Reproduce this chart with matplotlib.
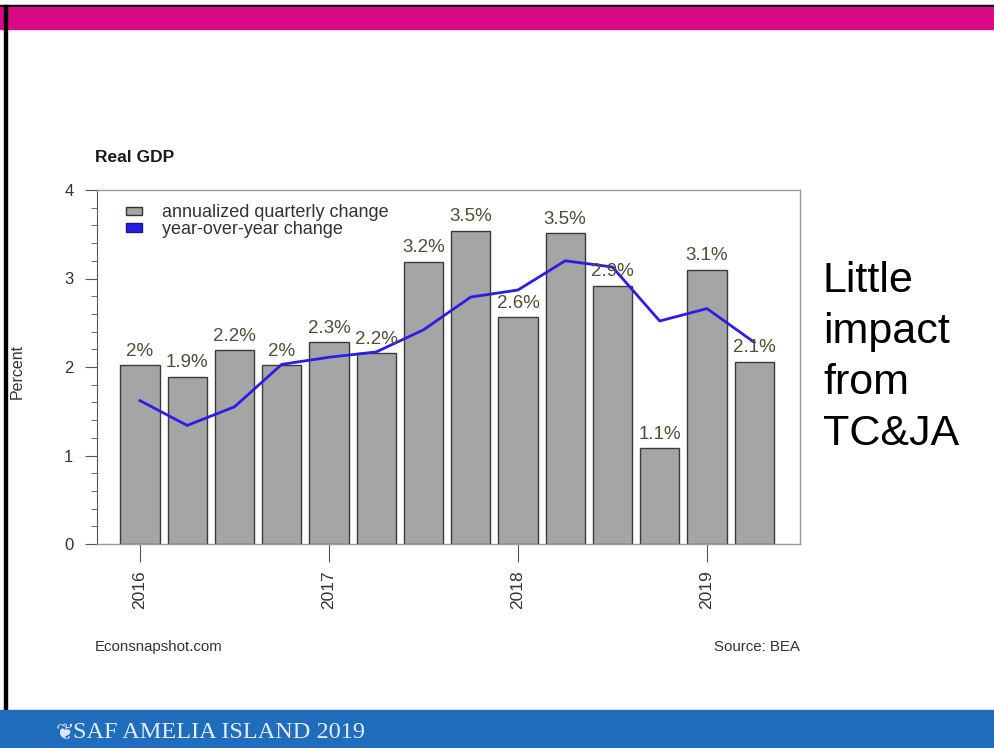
import matplotlib.pyplot as plt
import numpy as np
from matplotlib.patches import Patch, Rectangle
from matplotlib.ticker import MultipleLocator

quarters = ["2016Q1", "2016Q2", "2016Q3", "2016Q4",
            "2017Q1", "2017Q2", "2017Q3", "2017Q4",
            "2018Q1", "2018Q2", "2018Q3", "2018Q4",
            "2019Q1", "2019Q2"]
qoq = [2.02, 1.89, 2.19, 2.02, 2.28, 2.16, 3.19, 3.54, 2.56, 3.51, 2.92, 1.08, 3.10, 2.06]
yoy = [1.62, 1.34, 1.55, 2.03, 2.11, 2.17, 2.42, 2.79, 2.87, 3.20, 3.13, 2.52, 2.66, 2.28]
year_labels = ["2016", "2017", "2018", "2019"]

W, H = 994, 748
fig = plt.figure(figsize=(W / 100, H / 100), dpi=100)
plt.rcParams['font.family'] = ['Liberation Sans', 'DejaVu Sans']

# slide furniture: top bar, left rule, bottom band
fig.patches.append(Rectangle((0, 1 - 7 / H), 1, 2.5 / H, transform=fig.transFigure, color='black'))
fig.patches.append(Rectangle((0, 1 - 29 / H), 1, 22 / H, transform=fig.transFigure, color='#d80a85'))
fig.patches.append(Rectangle((4 / W, 38 / H), 3 / W, 1 - 43 / H, transform=fig.transFigure, color='black'))
fig.patches.append(Rectangle((0, 0), 1, 38 / H, transform=fig.transFigure, color='#1f6dbc'))
fig.text(56 / W, 15 / H, "\u2766", fontsize=16, color='#dce8f4', va='center', family='DejaVu Sans')
fig.text(73 / W, 15 / H, "SAF AMELIA ISLAND 2019", fontsize=17.5, color='#e4eef8',
         va='center', family='Liberation Serif')

ax = fig.add_axes([97 / W, (H - 544) / H, (800 - 97) / W, (544 - 190) / H])
x = np.arange(len(quarters))

ax.bar(x, qoq, width=0.83, color='#a5a5a5', edgecolor='#3a3a3a', linewidth=1, zorder=2)
ax.plot(x, yoy, color='#2a1ee6', linewidth=2, zorder=3)

for xi, v in zip(x, qoq):
    txt = f"{round(v, 1):g}%"
    ax.text(xi, v + 0.06, txt, ha='center', va='bottom', fontsize=13.5, color='#4f4f33', zorder=4)

ax.set_xlim(-0.91, 13.97)
ax.set_ylim(0, 4)
ax.yaxis.set_major_locator(MultipleLocator(1))
ax.yaxis.set_minor_locator(MultipleLocator(0.2))
ax.tick_params(axis='y', which='major', length=9, color='#555555', labelsize=12,
               labelcolor='#333333', pad=8)
ax.tick_params(axis='y', which='minor', length=4.5, color='#555555')

ax.set_xticks(x[::4])
ax.set_xticklabels(year_labels, rotation=90, fontsize=12.5, color='#333333')
ax.tick_params(axis='x', length=13, color='#555555', pad=6)

for side in ['top', 'right', 'bottom']:
    ax.spines[side].set_color('#9a9a9a')
    ax.spines[side].set_linewidth(1)
ax.spines['left'].set_color('#555555')

handles = [Patch(facecolor='#a5a5a5', edgecolor='#333333', linewidth=1),
           Patch(facecolor='#2a1ee6', edgecolor='#1a1a80', linewidth=1)]
ax.legend(handles, ["annualized quarterly change", "year-over-year change"],
          loc='upper left', bbox_to_anchor=(0.02, 1.0), frameon=False, fontsize=13,
          handlelength=0.9, handleheight=0.35, labelspacing=-0.04, handletextpad=1.1,
          borderaxespad=0.4, labelcolor='#333333')

fig.text(17 / W, (H - 371) / H, "Percent", rotation=90, fontsize=11.5, color='#333333',
         ha='center', va='center')
fig.text(95 / W, (H - 157) / H, "Real GDP", fontsize=12.5, fontweight='bold',
         color='#1a1a1a', va='center')
fig.text(95 / W, (H - 647) / H, "Econsnapshot.com", fontsize=10.8, color='#333333', va='center')
fig.text(800 / W, (H - 647) / H, "Source: BEA", fontsize=10.8, color='#333333',
         va='center', ha='right')

fig.text(823 / W, (H - 261) / H, "Little\nimpact\nfrom\nTC&JA", fontsize=31,
         color='black', va='top', ha='left', linespacing=1.36)

fig.savefig("out.png", dpi=100)
